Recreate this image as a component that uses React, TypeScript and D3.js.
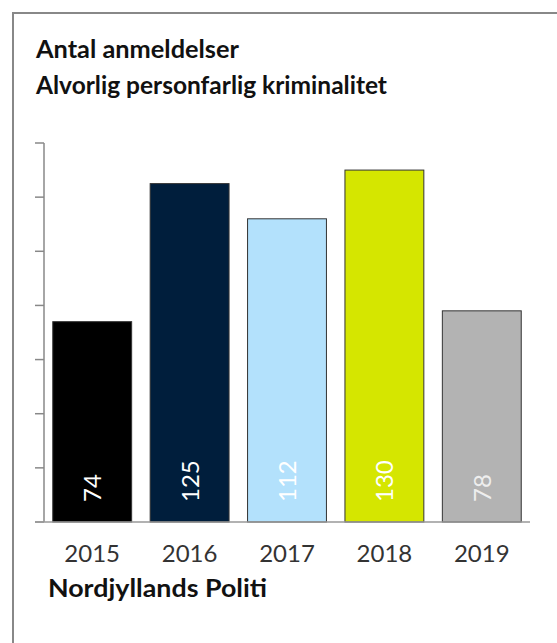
import React from 'react';
import * as d3 from 'd3';

// chart data
const years = ['2015', '2016', '2017', '2018', '2019'];
const counts = [74, 125, 112, 130, 78];
const barColors = ['#000000', '#001e3c', '#b3e1fc', '#d5e600', '#b3b3b3'];
const labelColors = ['#ffffff', '#ffffff', '#ffffff', '#ffffff', '#eeeeee'];
const yTicks = [0, 20, 40, 60, 80, 100, 120, 140];

const titleLines = ['Antal anmeldelser', 'Alvorlig personfarlig kriminalitet'];
const footer = 'Nordjyllands Politi';

const W = 557;
const H = 643;
const FONT = 'Lato, "Open Sans", sans-serif';

const App = () => {
    // plot area
    const x0 = 44, x1 = 530;
    const yTop = 143, yBase = 522;

    const xScale = d3.scaleBand()
        .domain(years)
        .range([x0, x1])
        .paddingInner(0.19)
        .paddingOuter(0.09);

    const yScale = d3.scaleLinear()
        .domain([0, 140])
        .range([yBase, yTop]);

    return (
        <div style={{position: 'fixed', left: 0, top: 0}}>
            <svg width={W} height={H} style={{display: 'block', background: '#fff'}}>
                {/* frame, only top and left edges are visible */}
                <rect x={13} y={13} width={W + 20} height={H + 20}
                      fill="#fff" stroke="#888" strokeWidth={2} />

                <text x={36} y={58} fontFamily={FONT} fontWeight="bold" fontSize={25}
                      textLength={203} lengthAdjust="spacingAndGlyphs" fill="#111">{titleLines[0]}</text>
                <text x={36} y={94} fontFamily={FONT} fontWeight="bold" fontSize={25}
                      textLength={351} lengthAdjust="spacingAndGlyphs" fill="#111">{titleLines[1]}</text>

                {/* y axis without labels */}
                <line x1={x0} x2={x0} y1={yScale(140)} y2={yBase}
                      stroke="#888" strokeWidth={1.5} />
                {yTicks.map((t) => (
                    <line key={t} x1={35} x2={x0} y1={yScale(t)} y2={yScale(t)}
                          stroke="#888" strokeWidth={1.5} />
                ))}

                {counts.map((v, i) => {
                    const bx = xScale(years[i]);
                    const bw = xScale.bandwidth();
                    const cx = bx + bw / 2;
                    return (
                        <g key={years[i]}>
                            <rect x={bx} y={yScale(v)} width={bw} height={yBase - yScale(v)}
                                  fill={barColors[i]} stroke="#333" strokeWidth={1} />
                            <text transform={`translate(${cx + 9},${yBase - 20}) rotate(-90)`}
                                  fontFamily={FONT} fontSize={24} fill={labelColors[i]}
                                  textAnchor="start">{v}</text>
                            <text x={cx} y={562} textAnchor="middle" fontFamily={FONT}
                                  fontSize={24} fill="#333">{years[i]}</text>
                        </g>
                    );
                })}

                {/* baseline */}
                <line x1={35} x2={x1} y1={yBase} y2={yBase} stroke="#999" strokeWidth={1.5} />

                <text x={48} y={597} fontFamily={FONT} fontWeight="bold" fontSize={24}
                      textLength={219} lengthAdjust="spacingAndGlyphs" fill="#111">{footer}</text>
            </svg>
        </div>
    );
};

export default App;
